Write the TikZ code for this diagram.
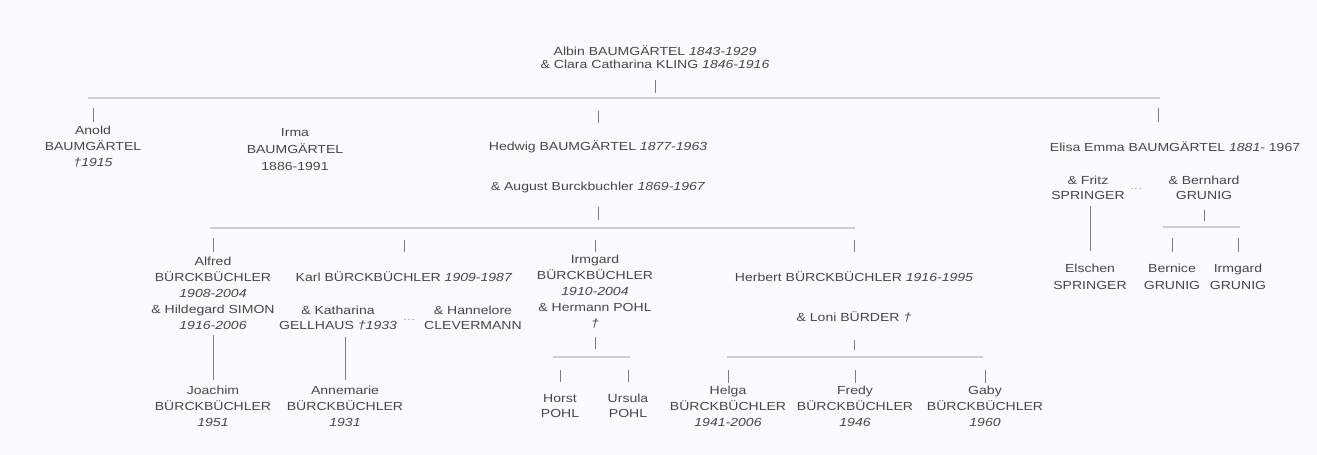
\documentclass[tikz,border=0pt]{standalone}
\usepackage{fontspec}
\setmainfont[FakeStretch=1.2]{Liberation Sans}
\definecolor{txt}{HTML}{474747}
\definecolor{tickc}{HTML}{7A7A7A}
\definecolor{barc}{HTML}{CFCFD3}
\definecolor{bg}{HTML}{FBFBFD}
\begin{document}
\begin{tikzpicture}[x=1bp,y=-1bp,
  person/.style={align=center,inner sep=0pt,text=txt,font=\fontsize{11.7bp}{16bp}\selectfont},
  tight/.style={font=\fontsize{11.7bp}{13.5bp}\selectfont},
  mid/.style={font=\fontsize{11.7bp}{15bp}\selectfont},
  wide/.style={font=\fontsize{11.7bp}{17bp}\selectfont},
  tickl/.style={draw=tickc,line width=0.9bp},
  barl/.style={draw=barc,line width=1.8bp},
  dotsn/.style={inner sep=0pt,text=tickc,font=\fontsize{9bp}{9bp}\selectfont}]
\useasboundingbox[fill=bg] (0,0) rectangle (1317,455);

% generation 1
\node[person,tight] (albin) at (655,57) {Albin BAUMGÄRTEL \textit{1843-1929}\\\& Clara Catharina KLING \textit{1846-1916}};
\coordinate (b1L) at (88,98);
\coordinate (b1R) at (1160,98);
\draw[tickl] (albin |- 0,80) -- (albin |- 0,93);
\draw[barl] (b1L) -- (b1R);

% generation 2
\node[person] (anold) at (93,147) {Anold\\BAUMGÄRTEL\\\textit{†1915}};
\node[person,wide] (irma) at (295,150) {Irma\\BAUMGÄRTEL\\1886-1991};
\node[person] (hedwig) at (598,147) {Hedwig BAUMGÄRTEL \textit{1877-1963}};
\node[person] (august) at (598,187) {\& August Burckbuchler \textit{1869-1967}};
\node[person] (elisa) at (1175,147) {Elisa Emma BAUMGÄRTEL \textit{1881-} 1967};
\draw[tickl] (anold |- 0,108) -- (anold |- 0,122);
\draw[tickl] (hedwig |- 0,111) -- (hedwig |- 0,123);
\draw[tickl] (1158,108) -- (1158,122);
\draw[tickl] (august |- 0,207) -- (august |- 0,220);

% Elisa's spouses and children
\node[person,mid] (fritz) at (1088,188) {\& Fritz\\SPRINGER};
\node[dotsn] (dots1) at (1136,190) {·\kern0.6bp·\kern0.6bp·};
\node[person,mid] (bernhard) at (1204,188) {\& Bernhard\\GRUNIG};
\node[person,wide] (elschen) at (1090,277) {Elschen\\SPRINGER};
\node[person,wide] (bernice) at (1172,277) {Bernice\\GRUNIG};
\node[person,wide] (irmgardg) at (1238,277) {Irmgard\\GRUNIG};
\draw[tickl] (elschen |- 0,206) -- (elschen |- 0,251);
\draw[tickl] (bernhard |- 0,210) -- (bernhard |- 0,221);
\coordinate (b3L) at (1163,227);
\coordinate (b3R) at (1240,227);
\draw[barl,line width=1.4bp] (b3L) -- (b3R);
\draw[tickl] (bernice |- 0,238) -- (bernice |- 0,252);
\draw[tickl] (irmgardg |- 0,238) -- (irmgardg |- 0,252);

% Hedwig's children bar
\coordinate (b2L) at (210,228);
\coordinate (b2R) at (855,228);
\draw[barl] (b2L) -- (b2R);

% Alfred
\node[person] (alfred) at (213,293) {Alfred\\BÜRCKBÜCHLER\\\textit{1908-2004}\\\& Hildegard SIMON\\\textit{1916-2006}};
\node[person] (joachim) at (213,406) {Joachim\\BÜRCKBÜCHLER\\\textit{1951}};
\draw[tickl] (alfred |- 0,238) -- (alfred |- 0,252);
\draw[tickl] (alfred |- 0,335) -- (joachim |- 0,380);

% Karl
\node[person] (karl) at (404,277) {Karl BÜRCKBÜCHLER \textit{1909-1987}};
\node[person,mid] (katharina) at (338,318) {\& Katharina\\GELLHAUS \textit{†1933}};
\node[dotsn] (dots2) at (409,321) {·\kern0.6bp·\kern0.6bp·};
\node[person,mid] (hannelore) at (473,318) {\& Hannelore\\CLEVERMANN};
\node[person] (annemarie) at (345,406) {Annemarie\\BÜRCKBÜCHLER\\\textit{1931}};
\draw[tickl] (karl |- 0,240) -- (karl |- 0,252);
\draw[tickl] (annemarie |- 0,337) -- (annemarie |- 0,380);

% Irmgard
\node[person] (irmgard) at (595,292) {Irmgard\\BÜRCKBÜCHLER\\\textit{1910-2004}\\\& Hermann POHL\\\textit{†}};
\node[person,mid] (horst) at (560,406) {Horst\\POHL};
\node[person,mid] (ursula) at (628,406) {Ursula\\POHL};
\draw[tickl] (irmgard |- 0,240) -- (irmgard |- 0,252);
\draw[tickl] (irmgard |- 0,337) -- (irmgard |- 0,349);
\coordinate (b4L) at (553,357);
\coordinate (b4R) at (630,357);
\draw[barl,line width=1.4bp] (b4L) -- (b4R);
\draw[tickl] (horst |- 0,370) -- (horst |- 0,382);
\draw[tickl] (ursula |- 0,370) -- (ursula |- 0,382);

% Herbert
\node[person] (herbert) at (854,277) {Herbert BÜRCKBÜCHLER \textit{1916-1995}};
\node[person] (loni) at (854,317) {\& Loni BÜRDER \textit{†}};
\node[person] (helga) at (728,406) {Helga\\BÜRCKBÜCHLER\\\textit{1941-2006}};
\node[person] (fredy) at (855,406) {Fredy\\BÜRCKBÜCHLER\\\textit{1946}};
\node[person] (gaby) at (985,406) {Gaby\\BÜRCKBÜCHLER\\\textit{1960}};
\draw[tickl] (herbert |- 0,240) -- (herbert |- 0,252);
\draw[tickl] (loni |- 0,340) -- (loni |- 0,350);
\coordinate (b5L) at (727,357);
\coordinate (b5R) at (983,357);
\draw[barl,line width=1.4bp] (b5L) -- (b5R);
\draw[tickl] (helga |- 0,370) -- (helga |- 0,383);
\draw[tickl] (fredy |- 0,370) -- (fredy |- 0,383);
\draw[tickl] (gaby |- 0,370) -- (gaby |- 0,383);
\end{tikzpicture}
\end{document}
